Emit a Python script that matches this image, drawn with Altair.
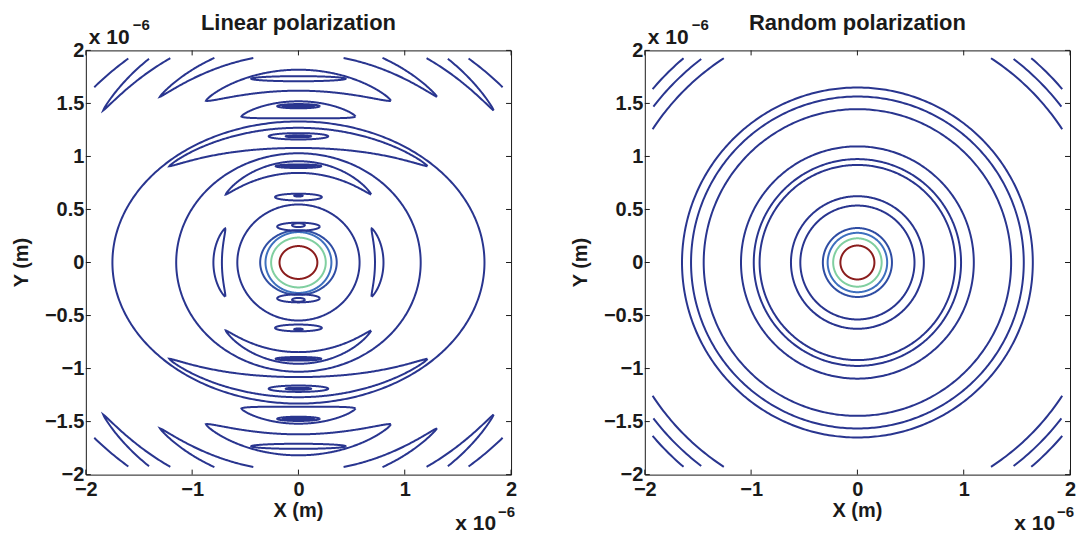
import altair as alt
import pandas as pd

W, H = 426, 425
GRID = 1.93  # half-width of the computed field (contours stop there)

NAVY = "#29358f"
BLUE2 = "#2f4da3"
BLUE = "#3e70be"
GREEN = "#80cfa0"
RED = "#8b1d1d"
TXT = "#1a1a1a"
FONT = "Liberation Sans"

x_ticks = [-2, -1, 0, 1, 2]
y_ticks = [-2, -1.5, -1, -0.5, 0, 0.5, 1, 1.5, 2]

# ---------------- Random polarization: circular contour radii (x1e-6 m)
rand_radius = [2.527, 2.417, 2.300, 1.650, 1.565, 1.446, 1.095, 0.975, 0.920,
               0.625, 0.537, 0.325, 0.280, 0.228, 0.160]
rand_color = [NAVY] * 11 + [BLUE2, BLUE, GREEN, RED]

# ---------------- Linear polarization
# closed elliptical contours centred on the y axis (cy, rx, ry); cy != 0 mirrored below
lin_ell_cy = [0, 0, 0, 0, 0, 0, 0,
              0.338, 0.352, 0.617, 0.630, 0.908, 0.908, 1.190, 1.190, 1.474, 1.474, 1.733]
lin_ell_rx = [0.178, 0.257, 0.310, 0.360, 0.575, 1.150, 1.750,
              0.200, 0.060, 0.220, 0.040, 0.215, 0.160, 0.280, 0.120, 0.200, 0.150, 0.445]
lin_ell_ry = [0.155, 0.235, 0.287, 0.305, 0.547, 1.030, 1.330,
              0.038, 0.018, 0.032, 0.008, 0.017, 0.008, 0.030, 0.010, 0.020, 0.009, 0.024]
lin_ell_col = [RED, GREEN, BLUE, BLUE2] + [NAVY] * 14

# crescent-shaped contours around the origin:
# centre angle (deg), half span (deg), outer ellipse (ax, ay), inner ellipse (ax, ay), taper
#               G      F      E      D      C      B      A      side
lin_band_tc = [90, 90, 90, 90, 90, 90, 90, 0]
lin_band_dt = [46.8, 53.2, 21.3, 29.7, 39.8, 52.0, 70.0, 25.0]
lin_band_aox = [1.03, 2.00, 1.90, 1.97, 2.10, 2.41, 2.95, 0.80]
lin_band_aoy = [0.955, 1.27, 1.52, 1.818, 2.10, 2.41, 2.95, 0.80]
lin_band_aix = [0.92, 1.83, 1.75, 1.80, 1.97, 2.25, 2.45, 0.72]
lin_band_aiy = [0.845, 1.08, 1.36, 1.62, 1.97, 2.25, 2.45, 0.72]
lin_band_p = [0.7, 0.7, 0.7, 0.7, 0.7, 0.7, 0.6, 0.7]
lin_band_col = [NAVY] * 8


def base_row():
    return dict(kind="e", cy=0.0, rx=0.0, ry=0.0, tc=0.0, dt=0.0, aox=0.0, aoy=0.0,
                aix=0.0, aiy=0.0, p=0.0, sx=1, sy=1)


def ellipse_rows(prefix, cys, rxs, rys, cols):
    rows = []
    for i, (cy, rx, ry, c) in enumerate(zip(cys, rxs, rys, cols)):
        for sy in ([1] if cy == 0 else [1, -1]):
            r = base_row()
            r.update(id=f"{prefix}e{i}_{sy}", kind="e", cy=cy * sy, rx=rx, ry=ry, c=c)
            rows.append(r)
    return rows


def band_rows(prefix, tcs, dts, aoxs, aoys, aixs, aiys, ps, cols):
    rows = []
    for i, vals in enumerate(zip(tcs, dts, aoxs, aoys, aixs, aiys, ps, cols)):
        tc, dt, aox, aoy, aix, aiy, p, c = vals
        if tc == 90:
            mirrors = [(1, 1), (1, -1)]
        elif tc == 0:
            mirrors = [(1, 1), (-1, 1)]
        else:
            mirrors = [(1, 1), (-1, 1), (1, -1), (-1, -1)]
        for sx, sy in mirrors:
            r = base_row()
            r.update(id=f"{prefix}b{i}_{sx}_{sy}", kind="b", tc=tc, dt=dt, aox=aox, aoy=aoy,
                     aix=aix, aiy=aiy, p=p, sx=sx, sy=sy, c=c)
            rows.append(r)
    return rows


rand_df = pd.DataFrame(ellipse_rows("r", [0] * len(rand_radius), rand_radius, rand_radius, rand_color))
lin_df = pd.DataFrame(
    ellipse_rows("l", lin_ell_cy, lin_ell_rx, lin_ell_ry, lin_ell_col)
    + band_rows("l", lin_band_tc, lin_band_dt, lin_band_aox, lin_band_aoy,
                lin_band_aix, lin_band_aiy, lin_band_p, lin_band_col)
)

XS = alt.Scale(domain=[-2, 2], nice=False, zero=False)
YS = alt.Scale(domain=[-2, 2], nice=False, zero=False)

x_axis = alt.Axis(values=x_ticks, labelExpr="replace(toString(datum.value), '-', '\u2212')",
                  ticks=False, domain=False, grid=False, labelPadding=5, title=None,
                  labelFont=FONT, labelFontSize=20, labelFontWeight="bold", labelColor=TXT,
                  labelFlush=False, labelOverlap=False)
y_axis = alt.Axis(values=y_ticks, labelExpr="replace(toString(datum.value), '-', '\u2212')",
                  ticks=False, domain=False, grid=False, labelPadding=2, title=None,
                  labelFont=FONT, labelFontSize=20, labelFontWeight="bold", labelColor=TXT,
                  labelFlush=False, labelOverlap=False)


def contour_layer(df):
    return (
        alt.Chart(df)
        .transform_calculate(t="sequence(0, 1.0001, 0.002)")
        .transform_flatten(["t"])
        .transform_calculate(s="datum.t < 0.5 ? 4*datum.t - 1 : 3 - 4*datum.t")
        .transform_calculate(th="datum.kind == 'e' ? 2*PI*datum.t : (datum.tc + datum.s*datum.dt)*PI/180")
        .transform_calculate(
            ro="datum.kind == 'e' ? 0 : datum.aox*datum.aoy/sqrt(pow(datum.aoy*cos(datum.th),2)+pow(datum.aox*sin(datum.th),2))",
            ri="datum.kind == 'e' ? 0 : datum.aix*datum.aiy/sqrt(pow(datum.aiy*cos(datum.th),2)+pow(datum.aix*sin(datum.th),2))",
        )
        .transform_calculate(
            r="(datum.ro+datum.ri)/2 + (datum.t < 0.5 ? 1 : -1)*(datum.ro-datum.ri)/2*pow(max(0, 1-datum.s*datum.s), datum.p)"
        )
        .transform_calculate(
            x="datum.kind == 'e' ? datum.rx*cos(datum.th) : datum.sx*datum.r*cos(datum.th)",
            y="datum.kind == 'e' ? datum.cy + datum.ry*sin(datum.th) : datum.sy*datum.r*sin(datum.th)",
        )
        .transform_calculate(out=f"abs(datum.x) > {GRID} || abs(datum.y) > {GRID} ? 1 : 0")
        .transform_window(seg="sum(out)", groupby=["id"], sort=[alt.SortField("t")], frame=[None, 0])
        .transform_filter("datum.out == 0")
        .transform_calculate(key="datum.id + '_' + datum.seg")
        .mark_line(strokeWidth=2, clip=True)
        .encode(
            x=alt.X("x:Q", scale=XS, axis=x_axis),
            y=alt.Y("y:Q", scale=YS, axis=y_axis),
            color=alt.Color("c:N", scale=None),
            detail="key:N",
            order="t:Q",
        )
    )


def tick_layers():
    xt = pd.DataFrame({"x": x_ticks})
    yt = pd.DataFrame({"y": y_ticks})
    layers = []
    for y0, y1 in [(H, H - 5), (0, 5)]:
        layers.append(alt.Chart(xt).mark_rule(color=TXT, strokeWidth=1).encode(
            x=alt.X("x:Q", scale=XS, axis=x_axis), y=alt.value(y0), y2=alt.value(y1)))
    for x0, x1 in [(0, 5), (W, W - 5)]:
        layers.append(alt.Chart(yt).mark_rule(color=TXT, strokeWidth=1).encode(
            y=alt.Y("y:Q", scale=YS, axis=y_axis), x=alt.value(x0), x2=alt.value(x1)))
    return layers


one = pd.DataFrame({"a": [0]})


def text(txt, x, y, size, align="center", baseline="alphabetic", angle=0):
    return alt.Chart(one).mark_text(text=txt, font=FONT, fontSize=size, fontWeight="bold",
                                    color=TXT, align=align, baseline=baseline, angle=angle).encode(
        x=alt.value(x), y=alt.value(y))


def panel(df, title, anchor=False):
    layers = [contour_layer(df)] + tick_layers() + [
        text(title, W / 2, -27, 22, baseline="middle"),
        text("X (m)", W / 2, H + 42, 20),
        text("Y (m)", -64, H / 2, 20, baseline="middle", angle=270),
        text("x 10", 3, -6, 21, align="left"),
        text("\u22126", 47, -20, 15, align="left"),
        text("x 10", 411, H + 55, 21, align="right"),
        text("\u22126", 413, H + 42, 15, align="left"),
    ]
    if anchor:
        layers.append(alt.Chart(one).mark_rule(opacity=0).encode(
            x=alt.value(-85.3), x2=alt.value(-85.3), y=alt.value(-49), y2=alt.value(-48)))
    return alt.layer(*layers).properties(width=W, height=H)


chart = (
    alt.hconcat(panel(lin_df, "Linear polarization", anchor=True),
                panel(rand_df, "Random polarization"),
                spacing=134, bounds="flush")
    .properties(padding=0)
    .configure_view(stroke=TXT, strokeWidth=1)
)

chart.save("out.html", embed_options={"renderer": "svg", "actions": False})
